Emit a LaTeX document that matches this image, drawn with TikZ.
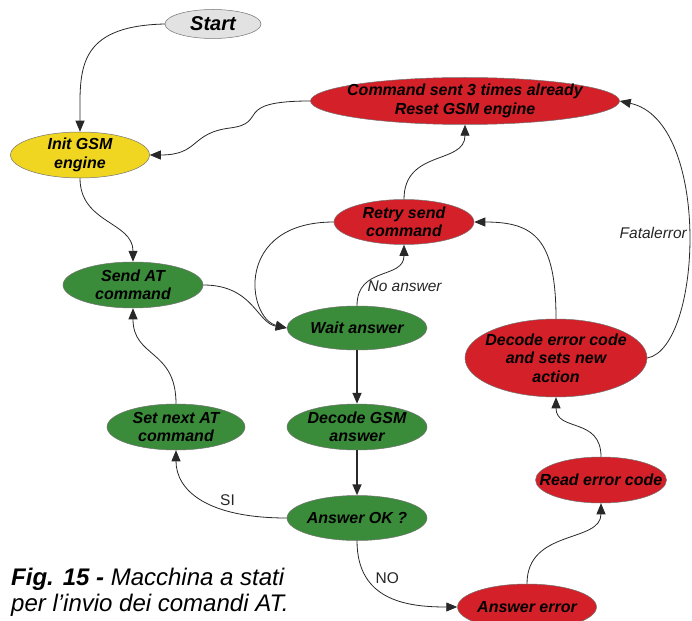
\documentclass[tikz,border=0pt]{standalone}
\usepackage{fontspec}
\setmainfont{Liberation Sans}
\usetikzlibrary{shapes.geometric,arrows.meta,calc}
\definecolor{stgreen}{RGB}{58,140,58}
\definecolor{stred}{RGB}{212,32,40}
\definecolor{styellow}{RGB}{240,214,32}
\definecolor{stgray}{RGB}{226,226,226}
\definecolor{edgec}{RGB}{40,40,40}
\tikzset{
  state/.style={ellipse, draw=black!55, line width=0.5pt, inner xsep=-40pt, inner ysep=-15pt, align=center,
    font=\fontsize{16}{18.5}\selectfont\bfseries\itshape, text=black},
  greenst/.style={state, fill=stgreen},
  redst/.style={state, fill=stred},
  conn/.style={draw=edgec, line width=0.8pt, -{Triangle[length=11pt,width=9pt]}},
  thickconn/.style={conn, line width=1.6pt},
  elab/.style={font=\fontsize{15.5}{18}\selectfont\itshape, text=black!85},
  ulab/.style={font=\fontsize{15.5}{18}\selectfont, text=black!85},
}
\begin{document}
\begin{tikzpicture}[x=1pt,y=-1pt]
\useasboundingbox (0,0) rectangle (692,620);
% nodes
\node[state, fill=stgray, minimum width=96, minimum height=29, font=\fontsize{20}{22}\selectfont\bfseries\itshape] (start) at (213,24) {Start};
\node[state, fill=styellow, minimum width=139, minimum height=46] (init) at (80,155) {Init GSM\\engine};
\node[redst, minimum width=309, minimum height=47] (cmd) at (465,101) {Command sent 3 times already\\Reset GSM engine};
\node[redst, minimum width=140, minimum height=45] (retry) at (404,222) {Retry send\\command};
\node[greenst, minimum width=140, minimum height=46] (send) at (133,285) {Send AT\\command};
\node[greenst, minimum width=140, minimum height=44] (wait) at (357,328) {Wait answer};
\node[redst, minimum width=182, minimum height=78] (decerr) at (556,358) {Decode error code\\and sets new\\action};
\node[greenst, minimum width=138, minimum height=46] (setnext) at (176,427) {Set next AT\\command};
\node[greenst, minimum width=140, minimum height=46] (decgsm) at (357,427) {Decode GSM\\answer};
\node[redst, minimum width=131, minimum height=46] (readerr) at (601,480) {Read error code};
\node[greenst, minimum width=140, minimum height=45] (ansok) at (357,518) {Answer OK ?};
\node[redst, minimum width=139, minimum height=46] (anserr) at (527,607) {Answer error};
% caption
\node[anchor=west, align=left, inner sep=0pt, font=\fontsize{24}{26}\selectfont\itshape] (cap) at (11,592)
  {\textbf{Fig. 15 -} Macchina a stati\\per l’invio dei comandi AT.};
% connectors
\path[conn] (start.west) .. controls +(-90,2) and +(0,-60) .. (init.north);
\path[conn] (cmd.west) .. controls +(-80,0) and +(40,-5) .. ($(cmd.west)!0.5!(init.east)$) .. controls +(-40,5) and +(50,0) .. (init.east);
\path[conn] (init.south) .. controls +(0,45) and +(0,-40) .. (send.north);
\path[conn] (send.east) .. controls +(50,0) and +(-30,-5) .. (wait.west);
\path[conn] (setnext.north) .. controls +(0,-55) and +(0,50) .. (send.south);
\path[conn] (wait.north) .. controls +(0,-40) and +(0,35) .. node[elab, pos=0.22, right, xshift=1pt] (noans) {No answer} (retry.south);
\path[conn] (retry.west) .. controls +(-100,0) and +(-40,-10) .. (wait.west);
\path[conn] (retry.north) .. controls +(0,-50) and +(0,40) .. (cmd.south);
\path[thickconn] (wait.south) -- (decgsm.north);
\path[thickconn] (decgsm.south) -- (ansok.north);
\path[conn] (ansok.west) .. controls +(-80,0) and +(0,40) .. node[ulab, pos=0.3, above=2pt] (si) {SI} (setnext.south);
\path[conn] (ansok.south) .. controls +(0,60) and +(-50,0) .. node[ulab, pos=0.27, right=5pt] (no) {NO} (anserr.west);
\path[conn] (anserr.north) .. controls +(0,-55) and +(0,40) .. (readerr.south);
\path[conn] (readerr.north) .. controls +(0,-40) and +(0,35) .. (decerr.south);
\path[conn] (decerr.north) .. controls +(0,-80) and +(60,0) .. (retry.east);
\path[conn] (decerr.east) .. controls +(55,-10) and +(92,20) .. node[elab, pos=0.5, left=-2pt] (fatal) {Fatalerror} (cmd.east);
\end{tikzpicture}
\end{document}
